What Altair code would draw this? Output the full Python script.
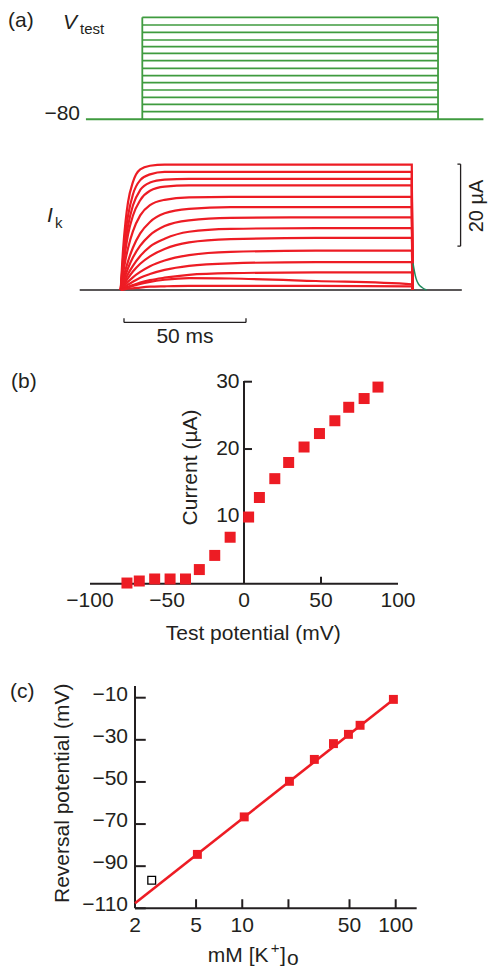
import altair as alt
import pandas as pd

# ---------------- data ----------------
# (a) voltage protocol (mV), holding potential -80
V_HOLD = -80
V_LEVELS = [-67.3, -55, -43.3, -31.2, -19, -7.3, 5, 17.7, 30, 41, 52.2, 65, 77.2, 90]
PULSE_START = 0.0
PULSE_END = 121.2          # ms
PROTO_T0, PROTO_T1 = -23.1, 139.8

# (a) K current traces (uA) sampled at these times (ms)
TRACE_T = [0, 1, 2, 3, 5, 8, 12, 18, 28, 45, 80, 119.3, 119.6]
TRACES = [
    [0, 10.1, 16.8, 21.4, 26.3, 29.4, 30.3, 30.6, 30.6, 30.6, 30.6, 30.6, 0],
    [0, 8.1, 14.1, 18.1, 23.3, 26.8, 28.2, 28.8, 28.8, 28.8, 28.8, 28.8, 0],
    [0, 6.8, 11.8, 15.6, 20.6, 24.4, 26.2, 26.9, 27.1, 27.1, 27.1, 27.1, 0],
    [0, 5.6, 9.9, 13.5, 18.1, 21.9, 24.2, 25.2, 25.5, 25.5, 25.5, 25.5, 0],
    [0, 4.1, 7.5, 10.2, 14.3, 18.2, 20.7, 22.0, 22.6, 22.7, 22.7, 22.7, 0],
    [0, 2.7, 5.0, 7.0, 10.3, 13.8, 16.6, 18.7, 19.8, 20.2, 20.2, 20.2, 0],
    [0, 2.0, 3.7, 5.3, 7.9, 10.8, 13.4, 15.6, 17.0, 17.6, 17.7, 17.7, 0],
    [0, 1.4, 2.7, 3.9, 5.9, 8.3, 10.6, 12.5, 14.2, 14.9, 15.1, 15.1, 0],
    [0, 1.1, 2.0, 2.9, 4.5, 6.4, 8.2, 10.0, 11.6, 12.4, 12.7, 12.7, 0],
    [0, 0.7, 1.4, 2.0, 3.1, 4.4, 5.8, 7.2, 8.5, 9.3, 9.6, 9.6, 0],
    [0, 0.5, 0.9, 1.3, 2.0, 3.0, 3.9, 4.9, 5.9, 6.5, 6.8, 6.8, 0],
    [0, 0.3, 0.5, 0.8, 1.2, 1.8, 2.4, 3.0, 3.7, 4.1, 4.3, 4.3, 0],
    [0, 0.2, 0.4, 0.6, 1.0, 1.5, 2.0, 2.5, 2.9, 2.8, 2.2, 1.4, 0],
    [0, 0.1, 0.2, 0.3, 0.4, 0.6, 0.8, 0.9, 1.0, 1.0, 1.0, 0.9, 0],
]
TAIL_T = [119.8, 120.4, 121.0, 122.0, 123.5, 125.3]
TAIL_I = [6.5, 4.5, 2.9, 1.5, 0.6, 0.0]
BASE_T0, BASE_T1 = -16.8, 139.8
BAR_I = [10.7, 30.7]        # 20 uA scale bar
BAR_I_T = 139.3
BAR_T = [1.35, 51.35]       # 50 ms scale bar
BAR_T_I = -7.9

# (b) I-V relation
B_V = [-76, -68, -58, -48, -38, -29, -19, -9, 3, 10, 20, 29, 39, 49, 59, 68, 78, 87]
B_I = [0.1, 0.4, 0.7, 0.7, 0.7, 2.1, 4.2, 6.9, 9.9, 12.8, 15.6, 18.0, 20.3, 22.3, 24.2, 26.2, 27.5, 29.2]
B_XTICKS = [-100, -50, 0, 50, 100]
B_XLABELS = ["\u2212100", "\u221250", "0", "50", "100"]
B_YTICKS = [10, 20, 30]
B_YLABELS = ["10", "20", "30"]

# (c) reversal potential vs [K+]o
C_K = [5.1, 10.3, 20.3, 29.5, 39.3, 49.2, 58.6, 96.6]
C_E = [-84.4, -66.6, -49.7, -39.3, -31.8, -27.4, -23.1, -10.8]
C_OPEN_K = [2.57]
C_OPEN_E = [-96.7]
C_FIT_K = [2, 100]
C_FIT_E = [-107.6, -10.0]
C_XTICKS = [5, 10, 20, 50, 100]
C_XLABVALS = [2, 5, 10, 50, 100]
C_XLABELS = ["2", "5", "10", "50", "100"]
C_YTICKS = [-10, -30, -50, -70, -90, -110]
C_YLABELS = ["\u221210", "\u221230", "\u221250", "\u221270", "\u221290", "\u2212110"]

# ---------------- style ----------------
FONT = "Liberation Sans"
RED = "#ed1c24"
GREEN = "#3f9b3f"
TAILG = "#1f8a5c"
INK = "#231f20"
FS = 21


def sc(domain, rng, typ="linear"):
    if typ == "log":
        return alt.Scale(type="log", domain=domain, range=rng, nice=False)
    return alt.Scale(domain=domain, range=rng, zero=False, nice=False)


SX_A1 = lambda: sc([0, 100], [142.3, 386.3])
SY_A1 = lambda: sc([-80, 90], [119.3, 17.3])
SX_A2 = lambda: sc([0, 100], [120.7, 364.7])
SY_A2 = lambda: sc([0, 30], [290, 167])
SX_B = lambda: sc([-100, 100], [90, 398])
SY_B = lambda: sc([0, 30], [583.7, 381.7])
SX_C = lambda: sc([2, 100], [135, 395.7], "log")
SY_C = lambda: sc([-110, -10], [908.3, 697.7])


def X(f, s):
    return alt.X(f, type="quantitative", scale=s(), axis=None)


def Y(f, s):
    return alt.Y(f, type="quantitative", scale=s(), axis=None)


def hrule(x0, x1, y, sx, sy, color=INK, w=2.0):
    df = pd.DataFrame({"a": x0 if isinstance(x0, list) else [x0],
                       "b": x1 if isinstance(x1, list) else [x1],
                       "y": y if isinstance(y, list) else [y]})
    return alt.Chart(df).mark_rule(color=color, strokeWidth=w).encode(
        x=X("a", sx), x2="b", y=Y("y", sy))


def vrule(x, y0, y1, sx, sy, color=INK, w=2.0):
    df = pd.DataFrame({"x": x if isinstance(x, list) else [x],
                       "a": y0 if isinstance(y0, list) else [y0],
                       "b": y1 if isinstance(y1, list) else [y1]})
    return alt.Chart(df).mark_rule(color=color, strokeWidth=w).encode(
        x=X("x", sx), y=Y("a", sy), y2="b")


def label(text, x, y, size=FS, align="left", baseline="alphabetic", angle=0,
          style="normal", color=INK):
    kw = dict(font=FONT, fontSize=size, align=align, baseline=baseline,
              color=color, fontStyle=style)
    if angle:
        kw["angle"] = angle
    return alt.Chart(pd.DataFrame({"t": [text]})).mark_text(**kw).encode(
        text="t:N", x=alt.value(x), y=alt.value(y))


layers = []

# ---------- (a) protocol ----------
n = len(V_LEVELS)
layers.append(hrule(PROTO_T0, PROTO_T1, V_HOLD, SX_A1, SY_A1, GREEN, 2.0))
layers.append(hrule([PULSE_START] * n, [PULSE_END] * n, V_LEVELS, SX_A1, SY_A1, GREEN, 1.7))
layers.append(vrule([PULSE_START, PULSE_END], [V_HOLD, V_HOLD], [V_LEVELS[-1]] * 2,
                    SX_A1, SY_A1, GREEN, 1.8))
layers.append(label("(a)", 8, 27))
layers.append(label("V", 63, 29, style="italic"))
layers.append(label("test", 80, 34, size=15))
layers.append(label("\u221280", 80, 120, align="right"))

# ---------- (a) currents ----------
rows = []
for k, tr in enumerate(TRACES):
    for t, i in zip(TRACE_T, tr):
        rows.append({"trace": k, "t": t, "i": i})
tdf = pd.DataFrame(rows)
layers.append(hrule(BASE_T0, BASE_T1, 0, SX_A2, SY_A2, INK, 1.6))
layers.append(alt.Chart(tdf).mark_line(color=RED, strokeWidth=2.2, interpolate="monotone").encode(
    x=X("t", SX_A2), y=Y("i", SY_A2), detail="trace:N", order="t:Q"))
layers.append(alt.Chart(pd.DataFrame({"t": TAIL_T, "i": TAIL_I})).mark_line(
    color=TAILG, strokeWidth=1.5, interpolate="monotone").encode(
    x=X("t", SX_A2), y=Y("i", SY_A2)))
# 20 uA bar
layers.append(vrule(BAR_I_T, BAR_I[0], BAR_I[1], SX_A2, SY_A2, INK, 1.3))
layers.append(hrule([BAR_I_T - 1.3] * 2, [BAR_I_T] * 2, BAR_I, SX_A2, SY_A2, INK, 1.3))
# 50 ms bar
layers.append(hrule(BAR_T[0], BAR_T[1], BAR_T_I, SX_A2, SY_A2, INK, 1.3))
layers.append(vrule(BAR_T, [BAR_T_I] * 2, [BAR_T_I + 1.0] * 2, SX_A2, SY_A2, INK, 1.3))
layers.append(label("20 \u00b5A", 476.5, 206, size=20, align="center", baseline="middle", angle=270))
layers.append(label("50 ms", 185, 343, align="center"))
layers.append(label("I", 47, 222, style="italic"))
layers.append(label("k", 55, 228, size=15))

# ---------- (b) I-V ----------
layers.append(hrule(-100, 100, 0, SX_B, SY_B, INK, 2.0))
layers.append(vrule(0, 0, 30.1, SX_B, SY_B, INK, 2.0))
layers.append(hrule([0] * 3, [5.2] * 3, B_YTICKS, SX_B, SY_B, INK, 2.0))
layers.append(vrule([-50, 50], [0, 0], [1.05, 1.05], SX_B, SY_B, INK, 2.0))
layers.append(alt.Chart(pd.DataFrame({"v": B_V, "i": B_I})).mark_point(
    shape="square", filled=True, size=121, color=RED, opacity=1).encode(
    x=X("v", SX_B), y=Y("i", SY_B)))
layers.append(alt.Chart(pd.DataFrame({"v": B_XTICKS, "t": B_XLABELS})).mark_text(
    font=FONT, fontSize=FS, align="center", baseline="alphabetic", color=INK).encode(
    x=X("v", SX_B), y=alt.value(607), text="t:N"))
layers.append(alt.Chart(pd.DataFrame({"i": B_YTICKS, "t": B_YLABELS})).mark_text(
    font=FONT, fontSize=FS, align="right", baseline="middle", color=INK).encode(
    x=alt.value(239.5), y=Y("i", SY_B), text="t:N"))
layers.append(label("(b)", 11, 388))
layers.append(label("Test potential (mV)", 253.3, 640, align="center"))
layers.append(label("Current (\u00b5A)", 196.5, 467.5, align="center", angle=270))

# ---------- (c) Nernst ----------
layers.append(hrule(2, 137, -110, SX_C, SY_C, INK, 2.0))
layers.append(vrule(2, -110, -4.4, SX_C, SY_C, INK, 2.0))
layers.append(hrule([2] * 6, [2.35] * 6, C_YTICKS, SX_C, SY_C, INK, 2.0))
layers.append(vrule(C_XTICKS, [-110] * 5, [-105.7] * 5, SX_C, SY_C, INK, 2.0))
layers.append(alt.Chart(pd.DataFrame({"k": C_FIT_K, "e": C_FIT_E})).mark_line(
    color=RED, strokeWidth=2.6).encode(x=X("k", SX_C), y=Y("e", SY_C)))
layers.append(alt.Chart(pd.DataFrame({"k": C_K, "e": C_E})).mark_point(
    shape="square", filled=True, size=80, color=RED, opacity=1).encode(
    x=X("k", SX_C), y=Y("e", SY_C)))
layers.append(alt.Chart(pd.DataFrame({"k": C_OPEN_K, "e": C_OPEN_E})).mark_point(
    shape="square", filled=False, size=60, color="black", strokeWidth=1.3, opacity=1).encode(
    x=X("k", SX_C), y=Y("e", SY_C)))
layers.append(alt.Chart(pd.DataFrame({"k": C_XLABVALS, "t": C_XLABELS})).mark_text(
    font=FONT, fontSize=FS, align="center", baseline="alphabetic", color=INK).encode(
    x=X("k", SX_C), y=alt.value(932), text="t:N"))
layers.append(alt.Chart(pd.DataFrame({"e": C_YTICKS, "t": C_YLABELS})).mark_text(
    font=FONT, fontSize=FS, align="right", baseline="alphabetic", dy=3, color=INK).encode(
    x=alt.value(128), y=Y("e", SY_C), text="t:N"))
layers.append(label("(c)", 10, 698))
layers.append(label("Reversal potential (mV)", 68.5, 793.3, align="center", angle=270))
layers.append(label("mM [K", 268.5, 961.7, align="right"))
layers.append(label("+", 275, 953, size=15, align="center"))
layers.append(label("]", 280, 961.7))
layers.append(label("o", 287, 965))

chart = alt.layer(*layers).resolve_scale(x="independent", y="independent").properties(
    width=488, height=969, autosize=alt.AutoSizeParams(type="none"), padding=0,
    background="white"
).configure_view(stroke=None)

chart.save("out.html", embed_options={"renderer": "svg", "actions": False})
